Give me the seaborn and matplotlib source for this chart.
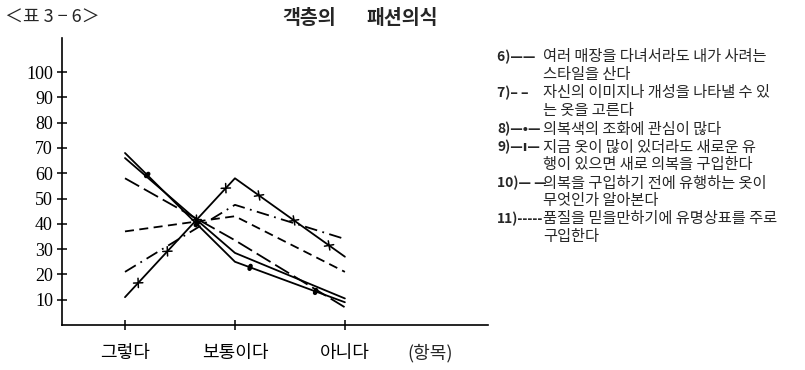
import matplotlib
matplotlib.use("Agg")
import matplotlib.pyplot as plt
import matplotlib.patheffects as pe
import seaborn as sns
import pandas as pd

# ---------- DATA ----------
categories = ["그렇다", "보통이다", "아니다"]
item6 = [66, 28.5, 10.5]
item7 = [58, 33.5, 7]
item8 = [68, 25, 9]
item9 = [11, 58, 27]
item10 = [21, 47.5, 34]
item11 = [37, 43, 21]
y_ticks = [10, 20, 30, 40, 50, 60, 70, 80, 90, 100]

legend_keys = ["6)—— ", "7)– –", "8)—•—", "9)—ı—", "10)— —", "11)-----"]
legend_text = [
    ["여러 매장을 다녀서라도 내가 사려는", "스타일을 산다"],
    ["자신의 이미지나 개성을 나타낼 수 있", "는 옷을 고른다"],
    ["의복색의 조화에 관심이 많다"],
    ["지금 옷이 많이 있더라도 새로운 유", "행이 있으면 새로 의복을 구입한다"],
    ["의복을 구입하기 전에 유행하는 옷이", "무엇인가 알아본다"],
    ["품질을 믿을만하기에 유명상표를 주로", "구입한다"],
]

df = pd.concat([
    pd.DataFrame({"item": name, "pos": range(len(categories)), "value": vals})
    for name, vals in [("6", item6), ("7", item7), ("8", item8),
                       ("9", item9), ("10", item10), ("11", item11)]
])

# ---------- STYLES ----------
xmark = [pe.Normal()] + [pe.TickedStroke(spacing=28, angle=a, length=0.12, linewidth=1.1)
                         for a in (45, -135, 135, -45)]
dots = [pe.Normal()] + [pe.TickedStroke(spacing=45, angle=a, length=0.025, linewidth=3.2)
                        for a in (90, -90)]
styles = {
    "6": dict(linestyle="-"),
    "7": dict(linestyle=(0, (9, 3))),
    "8": dict(linestyle="-", path_effects=dots),
    "9": dict(linestyle="-", path_effects=xmark),
    "10": dict(linestyle=(0, (7, 3, 1, 3))),
    "11": dict(linestyle=(0, (5, 3))),
}

sns.set_theme(style="white")
plt.rcParams["font.family"] = ["Noto Sans CJK KR", "DejaVu Sans"]

fig = plt.figure(figsize=(8.05, 3.7), dpi=100)
ax = fig.add_axes([0.077, 0.1216, 0.529, 0.776])

for name, sub in df.groupby("item", sort=False):
    sns.lineplot(data=sub, x="pos", y="value", ax=ax, color="black",
                 linewidth=1.3, **styles[name])

# ---------- AXES ----------
ax.set_xlim(-0.573, 3.3)
ax.set_ylim(0, 113.5)
ax.set_xticks(range(len(categories)))
ax.set_xticklabels(categories, fontsize=13)
ax.set_yticks(y_ticks)
ax.set_yticklabels([str(t) for t in y_ticks], fontsize=13,
                   family=["Liberation Serif", "DejaVu Serif"])
ax.tick_params(axis="both", direction="inout", length=7, width=1.1,
               colors="black", left=True, bottom=True)
ax.tick_params(axis="x", pad=10)
ax.tick_params(axis="y", pad=3)
ax.set_xlabel("")
ax.set_ylabel("")
for side in ["top", "right"]:
    ax.spines[side].set_visible(False)
for side in ["left", "bottom"]:
    ax.spines[side].set_color("black")
    ax.spines[side].set_linewidth(1.2)

# ---------- TEXT ----------
fig.text(0.006, 1 - 18 / 370, "＜표 3 − 6＞", fontsize=13, va="center", ha="left")
fig.text(309 / 805, 1 - 18 / 370, "객층의", fontsize=14, va="center",
         ha="center", weight="bold")
fig.text(402 / 805, 1 - 18 / 370, "패션의식", fontsize=14, va="center",
         ha="center", weight="bold")
fig.text(430 / 805, 1 - 353 / 370, "(항목)", fontsize=13, va="center", ha="center")

row = 0
for key, lines in zip(legend_keys, legend_text):
    fig.text(497 / 805, 1 - (57 + row * 18) / 370, key, fontsize=10,
             va="center", ha="left", weight="bold")
    for line in lines:
        fig.text(543 / 805, 1 - (57 + row * 18) / 370, line, fontsize=11,
                 va="center", ha="left", weight="medium")
        row += 1

fig.savefig("out.png", dpi=100, facecolor="white")
